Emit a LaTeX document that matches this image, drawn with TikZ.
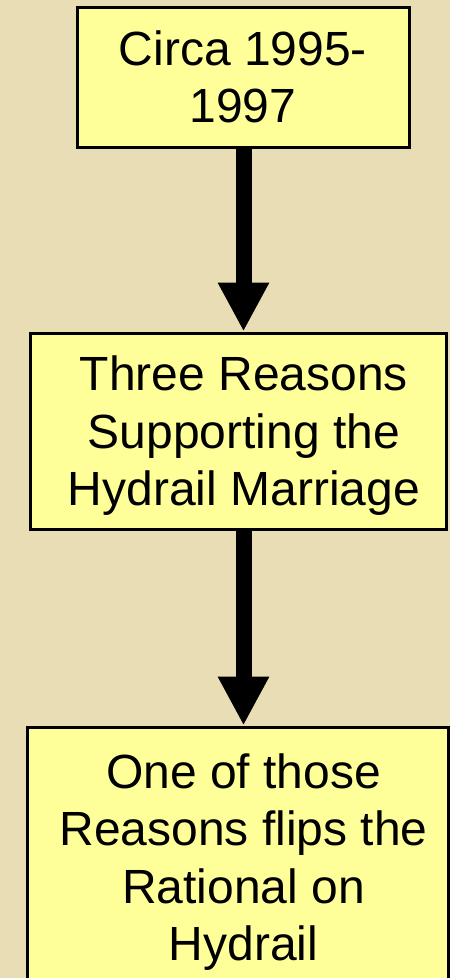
\documentclass[tikz,border=0pt]{standalone}
\usepackage{fontspec}
\setmainfont{Liberation Sans}
\usetikzlibrary{arrows.meta}
\definecolor{bgbeige}{HTML}{E8DDB5}
\definecolor{boxyellow}{HTML}{FFFF99}
\newcommand\lnstrut{\rule[-10pt]{0pt}{54pt}}
\newcommand\lnstrutr{\rule[-10pt]{0pt}{54pt}\hspace*{12pt}}
\begin{document}
\begin{tikzpicture}[x=1pt,y=-1pt,
  box/.style={draw=black, line width=3pt, fill=boxyellow, align=center,
    inner sep=0pt, font=\fontsize{48}{57.5}\selectfont},
  bigarrow/.style={line width=16pt, -{Triangle[width=48pt,length=49pt]}}]
\fill[bgbeige] (0,0) rectangle (450,978);
\useasboundingbox (0,0) rectangle (450,978);
\node[box, minimum width=332pt, minimum height=140pt] (b1) at (243,77)
  {\lnstrut Circa 1995-\\\lnstrut 1997};
\node[box, minimum width=416pt, minimum height=196pt] (b2) at (238,431)
  {\lnstrutr Three Reasons\\\lnstrutr Supporting the\\\lnstrutr Hydrail Marriage};
\node[box, minimum width=421pt, minimum height=261pt] (b3) at (237.5,857.5)
  {\lnstrutr One of those\\\lnstrutr Reasons flips the\\\lnstrutr Rational on\\\lnstrutr Hydrail};
\coordinate (s1) at (243.5,148.5);
\coordinate (s2) at (243.5,529.5);
\draw[bigarrow] (s1) -- (s1 |- b2.north);
\draw[bigarrow] (s2) -- (s2 |- b3.north);
\end{tikzpicture}
\end{document}
